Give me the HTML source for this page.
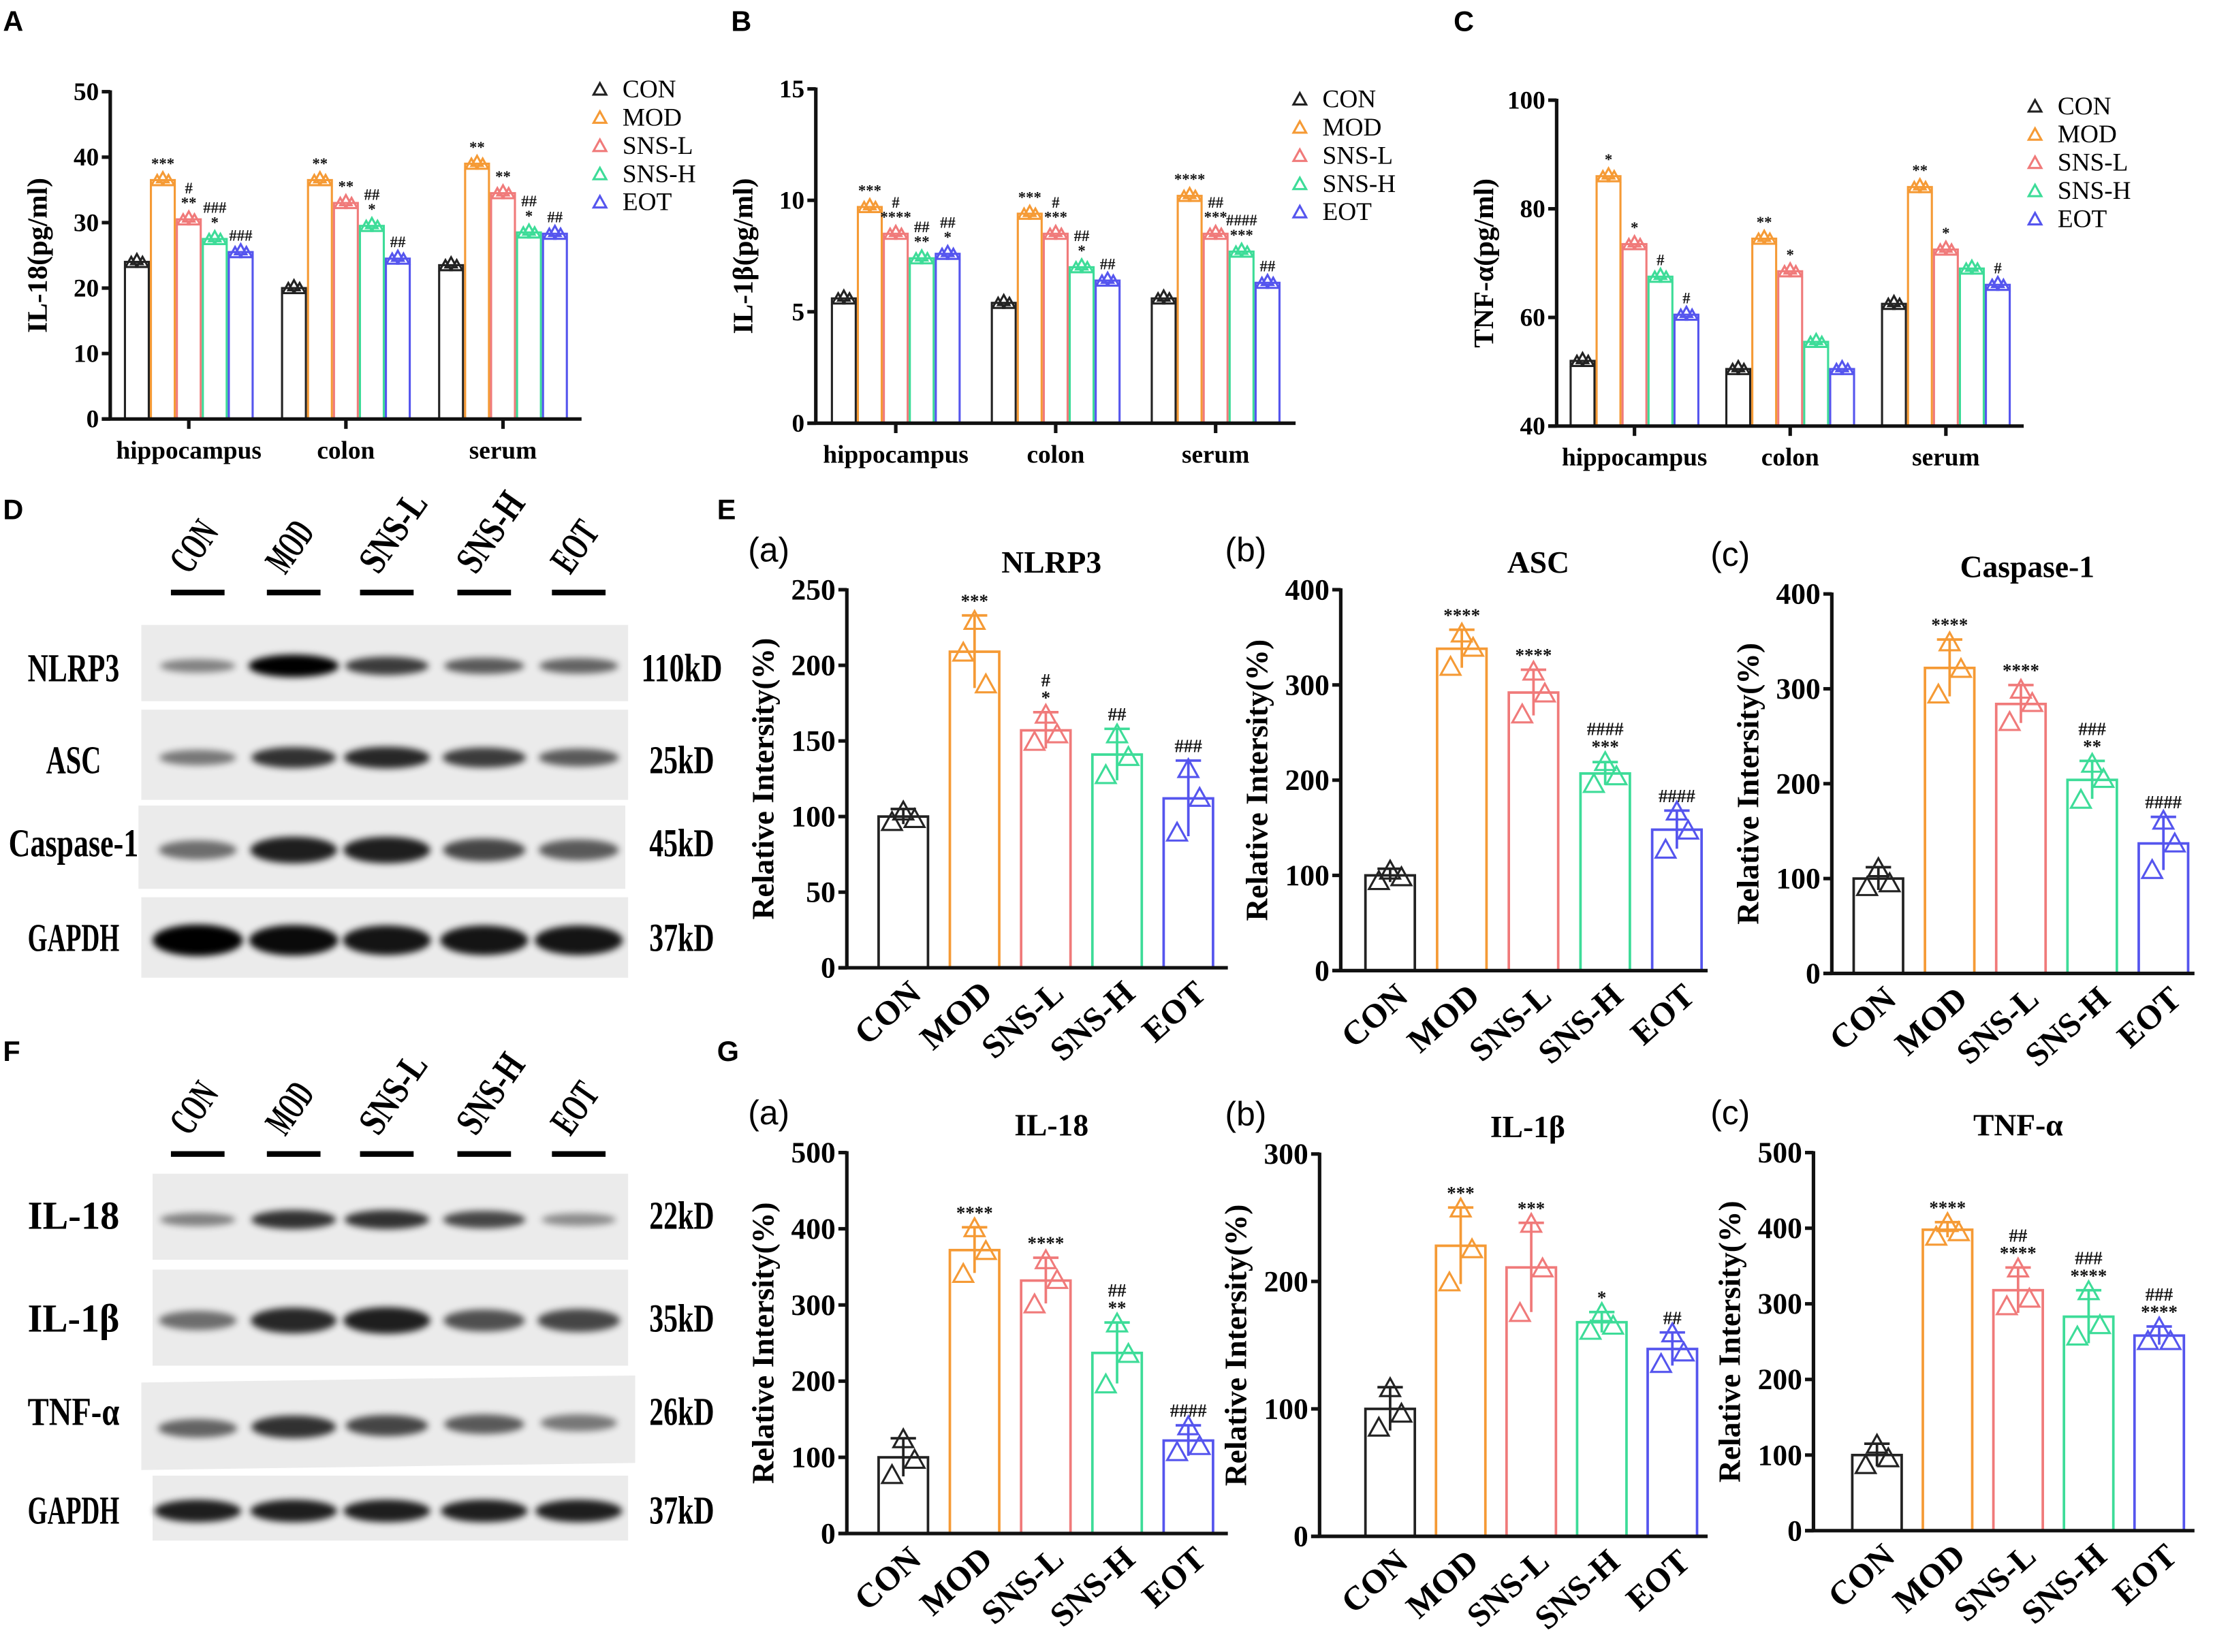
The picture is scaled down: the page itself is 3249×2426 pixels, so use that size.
<!DOCTYPE html>
<html><head><meta charset="utf-8"><style>
html,body{margin:0;padding:0;background:#fff;}
svg{display:block;}
text{font-family:"Liberation Serif",serif;}
</style></head><body>
<svg id="fig" xmlns="http://www.w3.org/2000/svg" width="3249" height="2426" viewBox="0 0 1568 1171">
<defs>
<filter id="blur" x="-20%" y="-50%" width="140%" height="200%"><feGaussianBlur stdDeviation="2.5"/></filter>
</defs>
</svg>
<script>
// ===== DATA =====
const groups = ["CON","MOD","SNS-L","SNS-H","EOT"];
const colors = ["#222222","#f59a35","#f07a7a","#3ddc98","#5555ee"];
const tissues = ["hippocampus","colon","serum"];
// Panel A IL-18 (rows = group, cols = tissue)
const il18Vals = [[24,20,23.5],[36.5,36.5,39],[30.5,33,34.5],[27.5,29.5,28.5],[25.5,24.5,28.3]];
const il18Ann = [["","",""],["***","**","**"],["#\n**","**","**"],["###\n*","##\n*","##\n*"],["###","##","##"]];
const il18Ticks = [0,10,20,30,40,50];
// Panel B IL-1β
const il1bVals = [[5.6,5.4,5.6],[9.7,9.4,10.2],[8.5,8.5,8.5],[7.4,7.0,7.7],[7.6,6.4,6.3]];
const il1bAnn = [["","",""],["***","***","****"],["#\n****","#\n***","##\n***"],["##\n**","##\n*","####\n***"],["##\n*","##","##"]];
const il1bTicks = [0,5,10,15];
// Panel C TNF-α
const tnfVals = [[52,50.5,62.5],[86,74.5,84],[73.5,68.5,72.5],[67.5,55.5,69],[60.5,50.5,66]];
const tnfAnn = [["","",""],["*","**","**"],["*","*","*"],["#","",""],["#","","#"]];
const tnfTicks = [40,60,80,100];
// Panel E
const nlrp3Mean = [100,209,157,141,112];
const nlrp3Err = [5,24,12,17,25];
const nlrp3Reps = [[104,97,99],[230,209,188],[168,150,155],[155,128,140],[132,90,113]];
const nlrp3Ann = ["","***","#\n*","##","###"];
const nlrp3Ticks = [0,50,100,150,200,250];
const ascMean = [100,338,292,207,148];
const ascErr = [7,20,24,12,20];
const ascReps = [[106,95,99],[355,320,340],[315,270,292],[220,197,205],[168,128,148]];
const ascAnn = ["","****","****","####\n***","####"];
const ascTicks = [0,100,200,300,400];
const caspMean = [100,322,284,204,137];
const caspErr = [12,30,20,20,28];
const caspReps = [[112,92,96],[350,295,322],[300,266,286],[222,184,206],[162,110,138]];
const caspAnn = ["","****","****","###\n**","####"];
const caspTicks = [0,100,200,300,400];
// Panel G
const gil18Mean = [100,372,332,237,122];
const gil18Err = [25,30,30,40,20];
const gil18Reps = [[125,78,98],[402,342,372],[360,302,334],[277,197,237],[142,108,116]];
const gil18Ann = ["","****","****","##\n**","####"];
const gil18Ticks = [0,100,200,300,400,500];
const gil1bMean = [100,228,211,168,147];
const gil1bErr = [17,30,35,8,13];
const gil1bReps = [[117,86,97],[258,200,226],[246,176,211],[176,162,166],[160,136,145]];
const gil1bAnn = ["","***","***","*","##"];
const gil1bTicks = [0,100,200,300];
const gtnfMean = [100,398,318,283,258];
const gtnfErr = [15,10,30,35,12];
const gtnfReps = [[115,88,97],[408,390,396],[348,298,308],[318,258,273],[270,252,252]];
const gtnfAnn = ["","****","##\n****","###\n****","###\n****"];
const gtnfTicks = [0,100,200,300,400,500];
// Blot band intensities (0..1)
const blotNLRP3 = [0.35,1.0,0.7,0.55,0.5];
const blotASC = [0.4,0.75,0.8,0.7,0.55];
const blotCasp = [0.45,0.85,0.85,0.65,0.55];
const blotGAPDH = [1,0.95,0.9,0.9,0.9];
const blotIL18 = [0.35,0.75,0.75,0.65,0.3];
const blotIL1b = [0.45,0.8,0.85,0.6,0.65];
const blotTNF = [0.5,0.75,0.65,0.55,0.4];
const blotGAPDH2 = [0.85,0.85,0.85,0.85,0.85];

// ===== HELPERS =====
const svg = document.getElementById('fig');
const NS = "http://www.w3.org/2000/svg";
function mk(tag, attrs, parent){
  const e = document.createElementNS(NS, tag);
  for (const k in attrs) e.setAttribute(k, attrs[k]);
  (parent||svg).appendChild(e);
  return e;
}
function txt(str, attrs, parent){
  const e = mk('text', attrs, parent);
  e.textContent = str;
  return e;
}
function tri(cx, cy, s, color, parent){
  const h = s*0.9;
  const e = mk('polygon', {points:`${cx-s/2},${cy+h/2} ${cx+s/2},${cy+h/2} ${cx},${cy-h/2}`, fill:'none', stroke:color, 'stroke-width':1.5}, parent);
  return e;
}
function multiline(str, x, yBottom, size, parent){
  const lines = str.split("\n");
  for (let i=0;i<lines.length;i++){
    const t = txt(lines[lines.length-1-i], {x:x, y:yBottom - i*size*0.95, 'font-size':size, 'font-weight':'bold', 'text-anchor':'middle', fill:'#111'}, parent);
    
    
  }
}
function panelLetter(l, x, y){
  const t = txt(l, {x:x, y:y, 'font-size':20, 'font-weight':'bold', style:'font-family:"Liberation Sans",sans-serif'});
  
  
}

// ===== GROUPED CHART (A,B,C) =====
function groupedChart(cfg){
  const g = mk('g', {});
  
  
  const min = cfg.ticks[0], max = cfg.ticks[cfg.ticks.length-1];
  const y = v => cfg.yBot - (v-min)/(max-min)*(cfg.yBot-cfg.yTop);
  const band = (cfg.x1-cfg.x0)/tissues.length;
  const bw = 18.4;
  const gx = i => cfg.x0 + band*(i+0.5);
  for (let t=0;t<tissues.length;t++){
    for (let k=0;k<groups.length;k++){
      const v = cfg.vals[k][t];
      const bx = gx(t) - bw*2.5 + bw*k;
      const r = mk('rect', {x:bx+0.75, y:y(v), width:bw-1.5, height:cfg.yBot-y(v), fill:'#fff', stroke:colors[k], 'stroke-width':1.5}, g);
      
      
      const cx = bx + bw/2;
      const offs = [-4,0,4];
      for (let p=0;p<3;p++){
        const tr = tri(cx+offs[p], y(v)+(p===1?-2:0), 8, colors[k], g);
        
        
      }
      if (cfg.ann[k][t]) multiline(cfg.ann[k][t], cx, y(v)-8, 11, g);
    }
    const tk = mk('line', {x1:gx(t), x2:gx(t), y1:cfg.yBot, y2:cfg.yBot+7, stroke:'#111', 'stroke-width':2.5}, g);
    
    
    const lb = txt(tissues[t], {x:gx(t), y:cfg.yBot+28, 'font-size':18, 'font-weight':'bold', 'text-anchor':'middle'}, g);
    
    
  }
  const ya = mk('line', {x1:cfg.x0, x2:cfg.x0, y1:cfg.yTop-1, y2:cfg.yBot+1, stroke:'#111', 'stroke-width':2.5}, g);
  
  
  const xa = mk('line', {x1:cfg.x0-6, x2:cfg.x1, y1:cfg.yBot, y2:cfg.yBot, stroke:'#111', 'stroke-width':2.5}, g);
  
  
  for (const v of cfg.ticks){
    const l = mk('line', {x1:cfg.x0-6, x2:cfg.x0, y1:y(v), y2:y(v), stroke:'#111', 'stroke-width':2.5}, g);
    
    
    const tl = txt(String(v), {x:cfg.x0-8, y:y(v)+6, 'font-size':18, 'font-weight':'bold', 'text-anchor':'end'}, g);
    
    
  }
  const yt = txt(cfg.ylabel, {x:0, y:0, 'font-size':20, 'font-weight':'bold', 'text-anchor':'middle', transform:`translate(${cfg.x0-45},${(cfg.yTop+cfg.yBot)/2}) rotate(-90)`}, g);
  
  
  for (let k=0;k<groups.length;k++){
    const ly = cfg.legY + k*20;
    const lt = tri(cfg.legX, ly-5, 9, colors[k], g);
    
    
    const ltx = txt(groups[k], {x:cfg.legX+16, y:ly+1, 'font-size':18}, g);
    
    
  }
}

// ===== SIMPLE BAR CHART (E,G) =====
function barChart(cfg){
  const g = mk('g', {});
  
  
  const max = cfg.ticks[cfg.ticks.length-1];
  const y = v => cfg.yBot - v/max*(cfg.yBot-cfg.yTop);
  const bw = 35;
  const cx = i => cfg.xFirst + i*cfg.step;
  for (let k=0;k<groups.length;k++){
    const v = cfg.mean[k], e = cfg.err[k];
    const r = mk('rect', {x:cx(k)-bw/2, y:y(v), width:bw, height:cfg.yBot-y(v), fill:'#fff', stroke:colors[k], 'stroke-width':1.8}, g);
    
    
    const eb = mk('line', {x1:cx(k), x2:cx(k), y1:y(v-e), y2:y(v+e), stroke:colors[k], 'stroke-width':1.8}, g);
    
    
    const cap = mk('line', {x1:cx(k)-9, x2:cx(k)+9, y1:y(v+e), y2:y(v+e), stroke:colors[k], 'stroke-width':1.8}, g);
    
    
    const offs = [0,-8,8];
    for (let p=0;p<3;p++){
      const tr = tri(cx(k)+offs[p], y(cfg.reps[k][p]), 14, colors[k], g);
      
      
    }
    if (cfg.ann[k]) multiline(cfg.ann[k], cx(k), Math.min(y(v+e), y(Math.max(...cfg.reps[k])))-6, 13, g);
    const lb = txt(groups[k], {x:0, y:0, 'font-size':24, 'font-weight':'bold', 'text-anchor':'end', transform:`translate(${cx(k)+14},${cfg.yBot+20}) rotate(-42)`}, g);
    
    
  }
  const ya = mk('line', {x1:cfg.x0, x2:cfg.x0, y1:cfg.yTop-1, y2:cfg.yBot+1, stroke:'#111', 'stroke-width':2.5}, g);
  
  
  const xa = mk('line', {x1:cfg.x0-6, x2:cfg.x1, y1:cfg.yBot, y2:cfg.yBot, stroke:'#111', 'stroke-width':2.5}, g);
  
  
  for (const v of cfg.ticks){
    const l = mk('line', {x1:cfg.x0-6, x2:cfg.x0, y1:y(v), y2:y(v), stroke:'#111', 'stroke-width':2.5}, g);
    
    
    const tl = txt(String(v), {x:cfg.x0-8, y:y(v)+7, 'font-size':21, 'font-weight':'bold', 'text-anchor':'end'}, g);
    
    
  }
  const yt = txt("Relative Intersity(%)", {x:0, y:0, 'font-size':22, 'font-weight':'bold', 'text-anchor':'middle', transform:`translate(${cfg.x0-52},${(cfg.yTop+cfg.yBot)/2}) rotate(-90)`}, g);
  
  
  const tt = txt(cfg.title, {x:(cfg.x0+cfg.x1)/2+10, y:cfg.yTop-12, 'font-size':22, 'font-weight':'bold', 'text-anchor':'middle'}, g);
  
  
  const sl = txt(cfg.sub, {x:cfg.subX, y:cfg.yTop-20, 'font-size':24, style:'font-family:"Liberation Sans",sans-serif'}, g);
  
  
}

// ===== BLOTS =====
function blotRow(name, label, kd, vals, x0, x1, yT, yB, ly, bandH, skew){
  const g = mk('g', {});
  
  
  const bg = mk('polygon', {points:`${x0},${yT} ${x1},${yT-(skew||0)} ${x1},${yB-(skew||0)} ${x0},${yB}`, fill:'#ebebeb'}, g);
  
  
  const lanes = [140,208,274,343,410];
  const ym = (yT+yB)/2;
  for (let i=0;i<lanes.length;i++){
    const iv = vals[i];
    const b = mk('ellipse', {cx:lanes[i], cy:ym - (skew||0)*(lanes[i]-x0)/(x1-x0) + 2, rx:24+iv*8, ry:bandH*(0.3+iv*0.5), fill:'#000', opacity:Math.min(1,0.15+iv*0.85), filter:'url(#blur)'}, g);
    
    
  }
  const t = txt(label, {x:52, y:ly, 'font-size':28, 'font-weight':'bold', 'text-anchor':'middle', textLength:label.length>6?92:(label.length*13), lengthAdjust:'spacingAndGlyphs'}, g);
  
  
  const k = txt(kd, {x:483, y:ly, 'font-size':28, 'font-weight':'bold', 'text-anchor':'middle', textLength:kd.length*11.5, lengthAdjust:'spacingAndGlyphs'}, g);
  
  
}
function laneHeader(yLine){
  const lanes = [140,208,274,343,410];
  for (let i=0;i<lanes.length;i++){
    const l = mk('rect', {x:lanes[i]-19, y:yLine-2, width:38, height:4, fill:'#000'});
    
    
    const t = txt(groups[i], {x:0, y:0, 'font-size':28, 'font-weight':'bold', textLength:groups[i].length*12.5, lengthAdjust:'spacingAndGlyphs', transform:`translate(${lanes[i]-6},${yLine-12}) rotate(-55)`});
    
    
  }
}

// ===== BUILD =====
panelLetter("A",2,22); panelLetter("B",518,22); panelLetter("C",1030,22);
panelLetter("D",2,368); panelLetter("E",508,368); panelLetter("F",2,752); panelLetter("G",508,752);

groupedChart({name:'chart-a-il18', vals:il18Vals, ann:il18Ann, ticks:il18Ticks, x0:78, x1:412, yTop:65, yBot:297, ylabel:'IL-18(pg/ml)', legX:425, legY:68});
groupedChart({name:'chart-b-il1b', vals:il1bVals, ann:il1bAnn, ticks:il1bTicks, x0:578, x1:918, yTop:63, yBot:300, ylabel:'IL-1β(pg/ml)', legX:921, legY:75});
groupedChart({name:'chart-c-tnfa', vals:tnfVals, ann:tnfAnn, ticks:tnfTicks, x0:1103, x1:1434, yTop:71, yBot:302, ylabel:'TNF-α(pg/ml)', legX:1442, legY:80});

barChart({name:'chart-e-nlrp3', title:'NLRP3', sub:'(a)', subX:530, mean:nlrp3Mean, err:nlrp3Err, reps:nlrp3Reps, ann:nlrp3Ann, ticks:nlrp3Ticks, x0:600, x1:870, yTop:418, yBot:686, xFirst:640, step:50.5});
barChart({name:'chart-e-asc', title:'ASC', sub:'(b)', subX:868, mean:ascMean, err:ascErr, reps:ascReps, ann:ascAnn, ticks:ascTicks, x0:950, x1:1210, yTop:418, yBot:688, xFirst:985, step:50.8});
barChart({name:'chart-e-caspase1', title:'Caspase-1', sub:'(c)', subX:1212, mean:caspMean, err:caspErr, reps:caspReps, ann:caspAnn, ticks:caspTicks, x0:1298, x1:1555, yTop:421, yBot:690, xFirst:1331, step:50.5});

barChart({name:'chart-g-il18', title:'IL-18', sub:'(a)', subX:530, mean:gil18Mean, err:gil18Err, reps:gil18Reps, ann:gil18Ann, ticks:gil18Ticks, x0:600, x1:870, yTop:817, yBot:1087, xFirst:640, step:50.5});
barChart({name:'chart-g-il1b', title:'IL-1β', sub:'(b)', subX:868, mean:gil1bMean, err:gil1bErr, reps:gil1bReps, ann:gil1bAnn, ticks:gil1bTicks, x0:935, x1:1210, yTop:818, yBot:1089, xFirst:985, step:50});
barChart({name:'chart-g-tnfa', title:'TNF-α', sub:'(c)', subX:1212, mean:gtnfMean, err:gtnfErr, reps:gtnfReps, ann:gtnfAnn, ticks:gtnfTicks, x0:1285, x1:1555, yTop:817, yBot:1085, xFirst:1330, step:50});

laneHeader(420);
blotRow('nlrp3','NLRP3','110kD',blotNLRP3,100,445,443,497,483,10);
blotRow('asc','ASC','25kD',blotASC,100,445,503,567,548,11);
blotRow('caspase1','Caspase-1','45kD',blotCasp,98,443,571,630,607,13);
blotRow('gapdh','GAPDH','37kD',blotGAPDH,100,445,636,693,674,14);

laneHeader(818);
blotRow('il18','IL-18','22kD',blotIL18,108,445,832,893,871,10);
blotRow('il1b','IL-1β','35kD',blotIL1b,108,445,900,968,944,13);
blotRow('tnfa','TNF-α','26kD',blotTNF,100,450,980,1042,1010,12,5);
blotRow('gapdh2','GAPDH','37kD',blotGAPDH2,108,445,1046,1092,1080,11);
</script>
</body></html>
